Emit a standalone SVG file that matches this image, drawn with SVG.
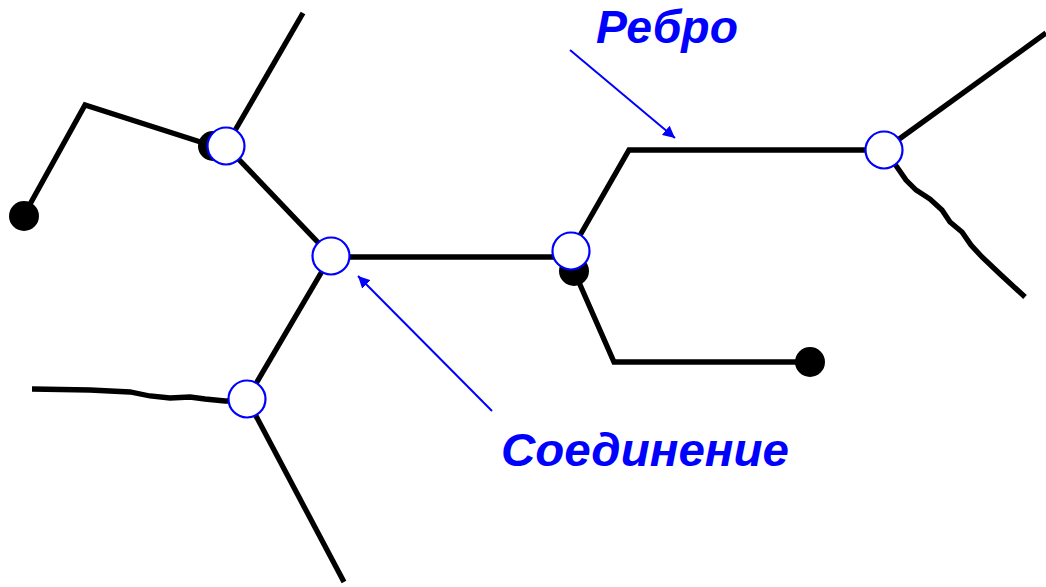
<svg xmlns="http://www.w3.org/2000/svg" width="1046" height="587" viewBox="0 0 1046 587">
<style>
.edge{fill:none;stroke:#000;stroke-width:5.3;stroke-linejoin:miter;stroke-linecap:butt}
.dot{fill:#000}
.joint{fill:#fff;stroke:#0000ff;stroke-width:2.2}
.lbl{font-family:"Liberation Sans",Arial,sans-serif;font-weight:bold;font-style:italic;font-size:47px;fill:#0000ff}
.ptr{stroke:#0000ff;stroke-width:2;fill:none}
</style>
<defs>
<marker id="ah" viewBox="0 0 10 10" refX="10" refY="5" markerWidth="6" markerHeight="6" markerUnits="strokeWidth" orient="auto">
<path d="M0,0 L10,5 L0,10 z" fill="#0000ff"/>
</marker>
</defs>
<g id="connectors">
<polyline class="edge" points="24,215 85,105 213,146"/>
<line class="edge" x1="303" y1="13" x2="226" y2="146"/>
<line class="edge" x1="226" y1="146" x2="331" y2="256"/>
<line class="edge" x1="331" y1="257" x2="571" y2="257"/>
<polyline class="edge" points="571,251 629,150 884,150"/>
<line class="edge" x1="884" y1="150" x2="1046" y2="33"/>
<polyline class="edge" points="884,150 897,167 906,180 916,190 930,199 942,210 950,222 962,232 971,245 982,257 1000,274 1025,297"/>
<polyline class="edge" points="574,271 614,362 810,362"/>
<line class="edge" x1="331" y1="256" x2="247" y2="399"/>
<line class="edge" x1="247" y1="399" x2="344" y2="582"/>
<polyline class="edge" points="32,389 90,390 130,392 150,396 170,398 190,397 205,399 225,401 247,401"/>
<line class="ptr" x1="570" y1="50" x2="675" y2="138" marker-end="url(#ah)"/>
<line class="ptr" x1="492" y1="411" x2="358" y2="276" marker-end="url(#ah)"/>
</g>
<g id="end1"><circle class="dot" cx="24" cy="216" r="15"/></g>
<g id="end2"><circle class="dot" cx="213" cy="146" r="15"/></g>
<g id="end3"><circle class="dot" cx="574" cy="271" r="15"/></g>
<g id="end4"><circle class="dot" cx="810" cy="362" r="15"/></g>
<g id="joint1"><circle class="joint" cx="226" cy="146" r="18.5"/></g>
<g id="joint2"><circle class="joint" cx="331" cy="256" r="18.5"/></g>
<g id="joint3"><circle class="joint" cx="571" cy="251" r="18.5"/></g>
<g id="joint4"><circle class="joint" cx="884" cy="150" r="18.5"/></g>
<g id="joint5"><circle class="joint" cx="247" cy="399" r="18.5"/></g>
<g id="label-edge"><text class="lbl" x="596" y="43" textLength="142" lengthAdjust="spacingAndGlyphs">Ребро</text></g>
<g id="label-joint"><text class="lbl" x="501" y="466" textLength="288" lengthAdjust="spacingAndGlyphs">Соединение</text></g>
</svg>
